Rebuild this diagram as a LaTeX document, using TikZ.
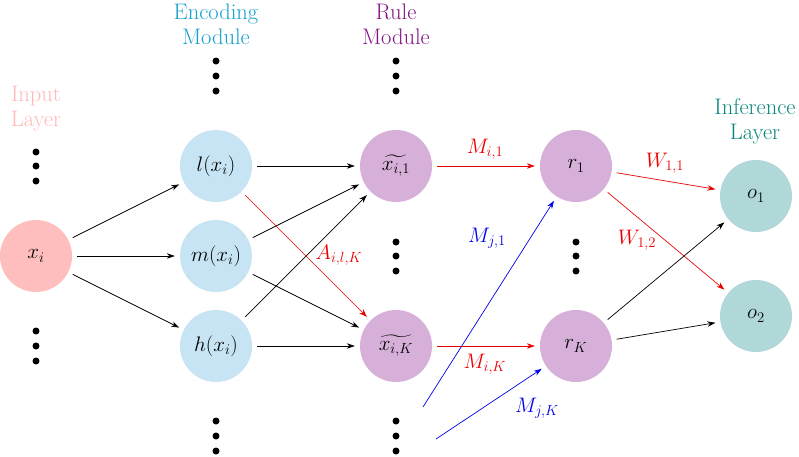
\RequirePackage{fix-cm}
\documentclass[tikz,border=0pt]{standalone}
\usepackage{amsmath}
\usetikzlibrary{arrows.meta}
\definecolor{infill}{RGB}{255,190,190}
\definecolor{encfill}{RGB}{198,228,243}
\definecolor{rulefill}{RGB}{214,176,216}
\definecolor{outfill}{RGB}{176,216,216}
\definecolor{inlab}{RGB}{255,185,185}
\definecolor{enclab}{RGB}{20,160,205}
\definecolor{rulelab}{RGB}{130,20,130}
\definecolor{outlab}{RGB}{10,135,125}
\definecolor{myred}{RGB}{235,0,0}
\definecolor{myblue}{RGB}{0,0,235}
\tikzset{
  neuron/.style={circle,minimum size=72pt,inner sep=0pt,font=\fontsize{21}{25}\selectfont},
  inneuron/.style={neuron,fill=infill},
  encneuron/.style={neuron,fill=encfill},
  ruleneuron/.style={neuron,fill=rulefill},
  outneuron/.style={neuron,fill=outfill},
  title/.style={align=center,font=\fontsize{22.5}{25}\selectfont},
  conn/.style={-{Stealth[length=8pt,width=5.5pt]},line width=0.7pt,shorten >=5pt,shorten <=5pt},
  redconn/.style={conn,draw=myred},
  blueconn/.style={-{Stealth[length=8pt,width=5.5pt]},line width=0.7pt,draw=myblue,shorten >=5pt},
  elab/.style={font=\fontsize{21}{25}\selectfont},
  vdot/.style={circle,fill=black,minimum size=7pt,inner sep=0pt}
}
\begin{document}
\begin{tikzpicture}[x=1pt,y=-1pt]
\useasboundingbox (0,0) rectangle (799,456);
% titles
\node[title,text=inlab] (tin) at (36,109) {Input\\Layer};
\node[title,text=enclab] (tenc) at (216,24) {Encoding\\Module};
\node[title,text=rulelab] (trule) at (396,24) {Rule\\Module};
\node[title,text=outlab] (tout) at (755,121) {Inference\\Layer};
% nodes
\node[inneuron] (x) at (36,256) {$x_i$};
\node[encneuron] (l) at (216,166) {$l(x_i)$};
\node[encneuron] (m) at (216,256) {$m(x_i)$};
\node[encneuron] (h) at (216,346) {$h(x_i)$};
\node[ruleneuron] (x1) at (396,166) {$\widetilde{x_{i,1}}$};
\node[ruleneuron] (xK) at (396,346) {$\widetilde{x_{i,K}}$};
\node[ruleneuron] (r1) at (576,166) {$r_1$};
\node[ruleneuron] (rK) at (576,346) {$r_K$};
\node[outneuron] (o1) at (756,196) {$o_1$};
\node[outneuron] (o2) at (756,316) {$o_2$};
% dots
\foreach \c/\y in {a/152,b/166,c/181}{\node[vdot] (din\c) at (36,\y) {};}
\foreach \c/\y in {a/331,b/346,c/361}{\node[vdot] (dinb\c) at (36,\y) {};}
\foreach \c/\y in {a/61,b/76,c/91}{\node[vdot] (denct\c) at (216,\y) {}; \node[vdot] (drulet\c) at (396,\y) {};}
\foreach \c/\y in {a/421,b/436,c/451}{\node[vdot] (dencb\c) at (216,\y) {}; \node[vdot] (druleb\c) at (396,\y) {};}
\foreach \c/\y in {a/242,b/256,c/271}{\node[vdot] (drulem\c) at (396,\y) {}; \node[vdot] (drm\c) at (576,\y) {};}
% edges
\draw[conn] (x) -- (l);
\draw[conn] (x) -- (m);
\draw[conn] (x) -- (h);
\draw[conn] (l) -- (x1);
\draw[conn] (m) -- (x1);
\draw[conn] (m) -- (xK);
\draw[conn] (h) -- (x1);
\draw[conn] (h) -- (xK);
\draw[redconn] (l) -- (xK);
\draw[redconn] (x1) -- (r1);
\draw[redconn] (xK) -- (rK);
\draw[redconn] (r1) -- (o1);
\draw[redconn] (r1) -- (o2);
\draw[conn] (rK) -- (o1);
\draw[conn] (rK) -- (o2);
\coordinate (b1) at (423,407);
\coordinate (b2) at (436,439);
\draw[blueconn] (b1) -- (r1);
\draw[blueconn] (b2) -- (rK);
% edge labels
\node[elab,text=myred] (lA) at (339,255) {$A_{i,l,K}$};
\node[elab,text=myred] (lM1) at (485,149) {$M_{i,1}$};
\node[elab,text=myred] (lMK) at (485,364) {$M_{i,K}$};
\node[elab,text=myred] (lW11) at (665,163) {$W_{1,1}$};
\node[elab,text=myred] (lW12) at (637,240) {$W_{1,2}$};
\node[elab,text=myblue] (lMj1) at (487,238) {$M_{j,1}$};
\node[elab,text=myblue] (lMjK) at (537,408) {$M_{j,K}$};
\end{tikzpicture}
\end{document}
